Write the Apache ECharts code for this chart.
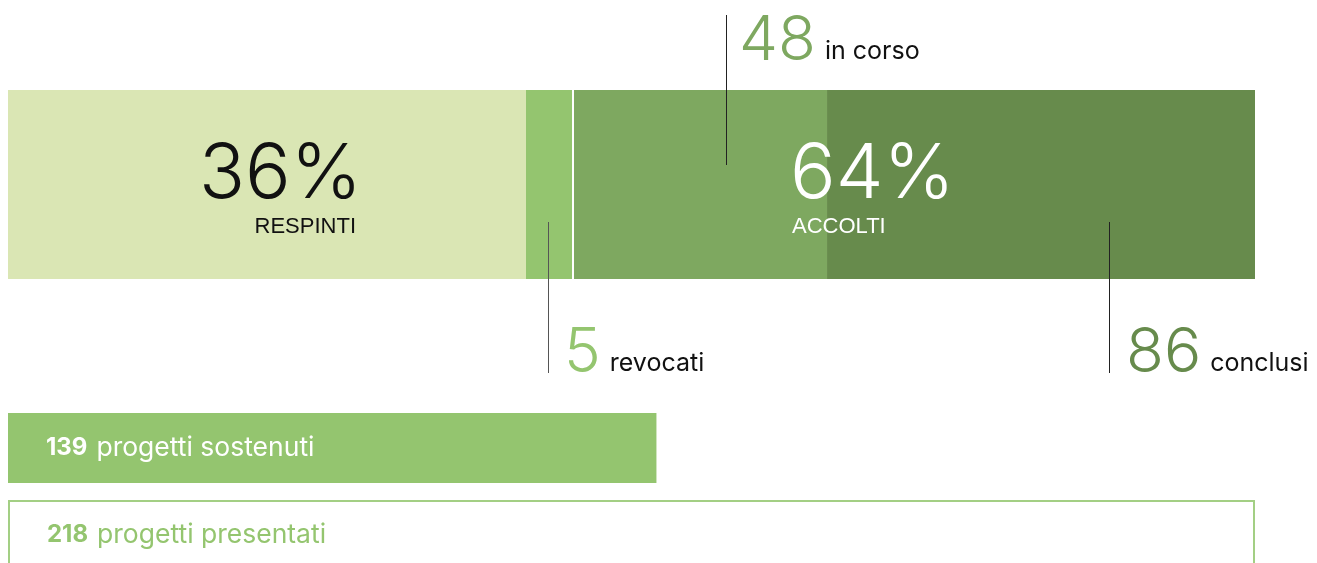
<!DOCTYPE html>
<html>
<head>
<meta charset="utf-8">
<script src="https://cdn.jsdelivr.net/npm/echarts@6/dist/echarts.min.js"></script>
<style>
  html, body { margin: 0; padding: 0; background: #fff; }
  #chart { width: 1317px; height: 563px; }
</style>
</head>
<body>
<div id="chart"></div>
<script>
// top bar: segments as drawn (share = length in % of full width)
const segNames = ['respinti', 'revocati', 'in corso', 'conclusi'];
const segShares = [41.54, 3.85, 20.29, 34.32];
const segCounts = [79, 5, 48, 86];
const segColors = ['#dae6b4', '#94c56f', '#7ea860', '#678b4c'];

// group labels
const groupPct = ['36%', '64%'];
const groupNames = ['RESPINTI', 'ACCOLTI'];

// totals bars
const totNames = ['progetti sostenuti', 'progetti presentati'];
const totCounts = [139, 218];
const totShares = [52, 100];

const FONT = 'Inter, "Noto Sans", sans-serif';
const SANS = '"Liberation Sans", Arial, sans-serif';
const chart = echarts.init(document.getElementById('chart'));

const grids = [
  { left: 8, right: 62, top: 90, height: 189, outerBoundsMode: 'none' },
  { left: 8, right: 62, top: 413, height: 70, outerBoundsMode: 'none' },
  { left: 8, right: 62, top: 500, height: 70, outerBoundsMode: 'none' }
];

function totLabel(i, color) {
  return {
    show: true, position: 'insideLeft', distance: 38,
    formatter: () => `{b|${totCounts[i]}}{r|${totNames[i]}}`,
    rich: {
      b: { fontFamily: FONT, fontSize: 24, fontWeight: 'bold', color, padding: [0, 9, 0, 0] },
      r: { fontFamily: FONT, fontSize: 26.5, color }
    }
  };
}

const option = {
  animation: false,
  grid: grids,
  xAxis: grids.map((g, i) => ({ type: 'value', gridIndex: i, min: 0, max: 100, show: false })),
  yAxis: grids.map((g, i) => ({ type: 'category', gridIndex: i, data: ['x'], show: false })),
  series: segNames.map((n, i) => ({
    name: n, type: 'bar', stack: 'top', xAxisIndex: 0, yAxisIndex: 0,
    barWidth: '100%', data: [segShares[i]],
    itemStyle: { color: segColors[i] }
  })).concat([
    {
      name: totNames[0], type: 'bar', xAxisIndex: 1, yAxisIndex: 1, barWidth: '100%',
      data: [totShares[0]], itemStyle: { color: '#94c56f' },
      label: totLabel(0, '#fff')
    },
    {
      name: totNames[1], type: 'bar', xAxisIndex: 2, yAxisIndex: 2, barWidth: '100%',
      data: [totShares[1]], itemStyle: { color: '#fff', borderColor: '#a3cf84', borderWidth: 2 },
      label: Object.assign(totLabel(1, '#94c56f'), { distance: 39 })
    }
  ])
};
chart.setOption(option);

// annotations placed from the axis scale
const px = v => chart.convertToPixel({ xAxisIndex: 0 }, v);
const cum = [0];
segShares.forEach((s, i) => cum.push(cum[i] + s));
const edge = cum.map(px);

const ctx = document.createElement('canvas').getContext('2d');
function textW(str, size, weight) {
  ctx.font = `${weight || 'normal'} ${size}px ${FONT}`;
  return ctx.measureText(str).width;
}
function txt(x, y, str, size, color, align, weight, family) {
  return {
    type: 'text', x, y, silent: true, z: 100,
    style: { text: str, font: `${weight || 'normal'} ${size}px ${family || FONT}`, fill: color, align: align || 'left', verticalAlign: 'middle' }
  };
}
function vline(x, y1, y2, color) {
  return { type: 'line', silent: true, z: 100, shape: { x1: x + 0.5, y1, x2: x + 0.5, y2 }, style: { stroke: color, lineWidth: 1 } };
}
function callout(x, yNum, yTxt, count, name, color) {
  const nx = x + 15;
  const w = textW(String(count), 62, 300);
  return [txt(nx, yNum, String(count), 62, color, 'left', 300), txt(nx + w + 9, yTxt, name, 25, '#111')];
}

const gfx = [];
// white separator between revocati and in corso
gfx.push({ type: 'rect', silent: true, z: 100, shape: { x: edge[2] - 2, y: 90, width: 2, height: 189 }, style: { fill: '#fff' } });
// group labels
gfx.push(txt(edge[1] - 164, 175, groupPct[0], 76, '#111', 'right', 300));
gfx.push(txt(edge[1] - 170, 227, groupNames[0], 22, '#111', 'right', 'normal', SANS));
gfx.push(txt(edge[2] + 216, 175, groupPct[1], 76, '#fff', 'left', 300));
gfx.push(txt(edge[2] + 218, 227, groupNames[1], 22, '#fff', 'left', 'normal', SANS));
// in corso (above)
const xc = Math.round(edge[2] + 0.6 * (edge[3] - edge[2]));
gfx.push(vline(xc, 15, 165, '#222'));
gfx.push(...callout(xc - 2, 41, 51, segCounts[2], segNames[2], '#7ea860'));
// revocati (below)
const xr = Math.round(edge[1] + 0.45 * (edge[2] - edge[1]));
gfx.push(vline(xr, 222, 373, '#555'));
gfx.push(...callout(xr + 1, 353, 363, segCounts[1], segNames[1], '#94c56f'));
// conclusi (below)
const xk = Math.round(edge[3] + 0.66 * (edge[4] - edge[3]));
gfx.push(vline(xk, 222, 373, '#222'));
gfx.push(...callout(xk + 2, 353, 363, segCounts[3], segNames[3], '#678b4c'));

chart.setOption({ graphic: { elements: gfx } });
</script>
</body>
</html>
